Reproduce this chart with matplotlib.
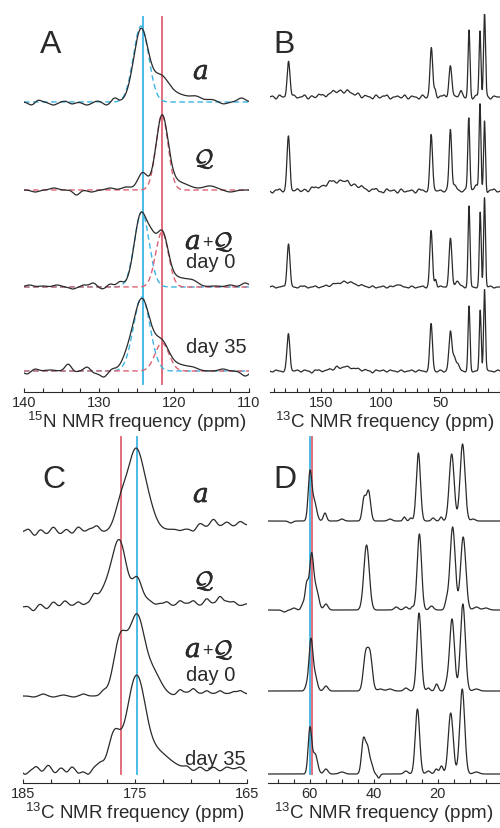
import numpy as np
import matplotlib
matplotlib.use('Agg')
import matplotlib.pyplot as plt
import matplotlib.patheffects as pe
from matplotlib.ticker import FixedLocator, MultipleLocator

plt.rcParams['font.family'] = ['Liberation Sans', 'DejaVu Sans']
plt.rcParams['mathtext.fontset'] = 'custom'
plt.rcParams['mathtext.rm'] = 'Liberation Sans'
plt.rcParams['mathtext.it'] = 'Liberation Sans:italic'

W, H = 500, 829
INK = '#2a2a2a'
BLUE = '#3db4e4'
RED = '#de6272'

# ---- peak lists: (ppm, height in px, fwhm in ppm) ----
# panel A, 15N
A_a = [(124.4, 72, 2.3), (121.8, 20, 2.4), (120.0, 8, 5.0),
       (139.0, -3, 1.0), (138.1, 2, 0.9), (136.1, -3, 1.2), (134.5, 1, 1.0), (133.6, -2, 1.0),
       (131.6, -3, 1.2), (130.2, 1, 1.0), (129.0, -3, 1.0), (127.9, 4, 0.9),
       (117.0, 3, 1.5), (115.0, 2, 1.5), (113.4, -2, 1.2), (111.0, 4, 1.2)]
A_q = [(121.6, 72, 1.9), (124.2, 17, 1.5), (119.6, 8, 3.5), (115.2, 4, 2.0),
       (138.5, -2, 1.2), (136.0, 2, 1.2), (133.0, -5, 1.0), (131.0, -2, 1.2), (128.5, 2, 1.2),
       (126.3, 3, 1.5), (112.5, -2, 1.5)]
A_aq = [(124.4, 73, 2.1), (121.6, 52, 1.9), (123.0, 25, 1.4), (119.3, 9, 3.5),
        (139.3, 2, 1.2), (137.5, 1, 1.2), (135.6, 2, 1.2), (133.5, -2, 1.0), (132.0, 2, 1.0),
        (130.8, 4, 1.0), (129.5, -2, 1.0), (128.5, 3, 1.0), (127.2, 5, 1.0),
        (117.4, 3, 1.5), (114.5, 1, 1.5), (112.5, 2, 1.2), (110.5, 4, 1.2)]
A_d35 = [(124.3, 72, 2.7), (121.6, 26, 2.2), (126.3, 8, 1.8), (119.3, 6, 3.0),
         (139.6, -3, 1.0), (138.5, 2, 1.0), (136.5, 1, 1.5), (134.1, 7, 1.0), (133.3, -1, 1.0),
         (131.6, 4, 1.0), (130.6, -2, 1.0), (129.4, -6, 1.2), (128.2, 2, 1.0),
         (117.4, 2, 1.5), (113.5, 2, 1.2), (110.5, -5, 1.2)]
# fitted components (dashed)
A_a_fit_blue = [(124.4, 76, 2.4)]
A_q_fit_red = [(121.6, 75, 1.9)]
A_aq_fit_blue = [(124.3, 75, 2.3)]
A_aq_fit_red = [(121.6, 55, 2.0)]
A_d35_fit_blue = [(124.3, 74, 2.6)]
A_d35_fit_red = [(121.6, 28, 2.2)]
A_marks = [124.1, 121.6]

# panel B, 13C full range
B_a = [(177.5, 36, 2.8), (133, 6, 22), (57.6, 49, 2.6), (54.4, 8, 2.2), (41.6, 33, 2.8),
       (33, 5, 2.5), (26.0, 66, 1.9), (16.8, 66, 1.8), (13.0, 85, 1.9)]
B_q = [(177.5, 55, 2.8), (135, 10, 30), (57.8, 57, 2.6), (41.6, 63, 2.5), (38, 6, 3.0),
       (26.2, 75, 2.0), (20, 6, 3.0), (16.8, 85, 1.8), (13.0, 71, 1.8)]
B_aq = [(177.5, 43, 2.8), (130, 5, 20), (86, 3, 4), (57.8, 56, 2.6), (54, 8, 2.0),
        (41.6, 48, 2.8), (36, 6, 4), (26.0, 80, 1.9), (16.6, 74, 1.8), (13.0, 90, 1.8)]
B_d35 = [(177.5, 37, 2.8), (130, 4, 20), (57.8, 47, 2.6), (41.6, 39, 3.0), (38.5, 12, 2.5),
         (36, 7, 4), (26.0, 64, 1.9), (16.6, 60, 1.8), (13.0, 82, 1.8)]
B_a_noise = [1, -2, 2, 0, -2, 1, 2, -1, 0, 2, -2, 1, -1, 2, 1, -2, 0, 2, -1, 1, -2, 2, 0, -1,
             2, -2, 1, 0, -2, 2, -1, 1, 2, -2, 0, 1, -1, 2, -2, 1, 0, -2, 2, -1, 1, 0, -2, 1,
             2, -1, -2, 1, 0, 2, -1, 1, -2, 2, 0, -1, 1, -2, 1, 0]
B_q_noise = [-2, 1, 2, -1, 2, -2, 0, 2, -1, 1, -2, 2, 1, -1, 0, -2, 2, 1, -2, 1, 0, 2, -2, 1,
             -1, 2, 0, -2, 1, 2, -1, -2, 2, 0, 1, -2, 2, -1, 0, 1, -2, 2, 1, -1, -2, 2, 0, 1,
             -1, 2, -2, 0, 1, -1, 2, -2, 1, 0, 2, -1, -2, 1, 2, -1]
B_aq_noise = [1, -1, 0, 1, -1, 1, 0, -1, 1, 1, -1, 0, 1, -1, 0, 1, -1, 1, 0, -1, 1, -1, 1, 0,
              -1, 1, 0, -1, 1, -1, 0, 1, -1, 1, 0, -1, 1, 0, -1, 1, -1, 0, 1, -1, 1, 0, -1, 1,
              0, -1, 1, -1, 0, 1, -1, 1, 0, -1, 1, -1, 0, 1, -1, 0]
B_d35_noise = [-1, 1, 0, -1, 2, -1, 0, 1, -1, 1, 0, -2, 1, 1, -1, 0, 1, -1, 2, -1, 0, 1, -1, 0,
               1, -1, 1, 0, -2, 1, 0, 1, -1, 1, 0, -1, 1, -1, 0, 1, -1, 1, 0, -1, 1, 0, -1, 1,
               -1, 0, 1, -1, 1, 0, -1, 1, -1, 0, 1, -1, 1, 0, -1, 1]

# panel C, carbonyl region
C_a = [(175.0, 70, 1.5), (176.2, 30, 1.3), (174.0, 30, 1.6), (167.0, 7, 8.0),
       (184.53, 3, 0.6), (183.93, -4, 0.6), (183.48, 3, 0.6), (182.88, -2, 0.6), (182.29, 5, 0.6),
       (181.70, -2, 0.6), (181.10, 3, 0.6), (180.65, -2, 0.6), (180.06, 5, 0.6), (179.46, 0, 0.6),
       (179.02, 3, 0.6), (178.42, 6, 0.6),
       (170.98, -2, 0.6), (170.38, -1, 0.6), (169.79, -4, 0.6), (169.20, 3, 0.6), (168.60, -1, 0.6),
       (168.00, 6, 0.6), (167.41, -1, 0.6), (166.80, 3, 0.6), (166.20, -1, 0.6), (165.60, 4, 0.6),
       (165.03, 1, 0.6)]
C_q = [(176.4, 66, 1.5), (177.5, 14, 1.2), (174.8, 27, 1.0), (173.8, 6, 1.0), (178.2, 6, 1.0),
       (184.53, 1, 0.6), (184.08, -4, 0.6), (183.48, 3, 0.6), (182.88, -2, 0.6), (182.29, 5, 0.6),
       (181.85, 0, 0.6), (181.25, 6, 0.6), (180.65, 1, 0.6), (180.06, 5, 0.6), (179.30, 3, 0.6),
       (178.70, 9, 0.6),
       (172.77, 3, 0.6), (172.17, 5, 0.6), (171.58, 1, 0.6), (170.98, 6, 0.6), (170.38, 3, 0.6),
       (169.79, 6, 0.6), (169.20, 1, 0.6), (168.60, 8, 0.6), (168.00, 3, 0.6), (167.41, 10, 0.6),
       (166.80, 5, 0.6), (166.20, 5, 0.6), (165.60, 1, 0.6), (165.03, 3, 0.6)]
C_aq = [(174.85, 74, 1.5), (176.3, 58, 1.4), (173.5, 25, 1.8),
        (184.97, 0, 0.6), (184.08, -1, 0.6), (183.19, 2, 0.6), (182.29, -1, 0.6), (181.40, 1, 0.6),
        (180.50, -1, 0.6), (179.60, 2, 0.6), (178.70, 0, 0.6), (177.83, 4, 0.6),
        (170.98, 6, 0.6), (170.38, 3, 0.6), (169.79, 7, 0.6), (169.20, 2, 0.6), (168.60, 5, 0.6),
        (168.00, 2, 0.6), (167.41, 5, 0.6), (166.80, 2, 0.6), (166.20, 4, 0.6), (165.60, 5, 0.6),
        (165.03, 2, 0.6)]
C_d35 = [(174.7, 66, 1.6), (175.5, 32, 1.5), (176.85, 35, 1.2), (173.4, 20, 3.0),
         (184.83, -5, 0.6), (184.38, -1, 0.6), (183.78, 3, 0.6), (183.34, -3, 0.6), (182.74, 4, 0.6),
         (182.14, -4, 0.6), (181.55, 2, 0.6), (181.10, -4, 0.6), (180.65, 3, 0.6), (180.06, -4, 0.6),
         (179.60, -1, 0.6), (179.17, -5, 0.6), (178.57, 2, 0.6), (178.10, 5, 0.6),
         (170.38, 2, 0.6), (169.79, -2, 0.6), (169.20, 2, 0.6), (168.60, -2, 0.6), (168.00, 2, 0.6),
         (167.41, -2, 0.6), (166.80, 2, 0.6), (166.20, 0, 0.6), (165.60, 2, 0.6), (165.03, -2, 0.6)]
C_marks = [174.85, 176.25]

# panel D, aliphatic region
D_a = [(60.0, 46, 1.3), (58.7, 20, 1.8), (55.3, 8, 1.2), (43.1, 22, 1.3), (41.7, 30, 1.5),
       (26.1, 68, 1.5), (15.7, 67, 1.8), (12.3, 77, 1.8), (30.5, 4, 1.0), (28.5, 3, 1.0),
       (21.5, 3, 1.2), (19.0, 4, 1.0), (9.0, 2, 1.5), (66, -2, 1.5), (50, 2, 1.5), (35, 2, 1.5)]
D_q = [(59.5, 54, 1.5), (61.0, 25, 1.2), (62.2, 6, 1.2), (58.0, 20, 1.8), (55.0, 6, 1.5),
       (42.3, 65, 2.0), (25.8, 76, 1.6), (17.3, 8, 1.2), (15.4, 83, 1.9), (12.1, 73, 1.9),
       (33, 3, 1.5), (30, 3, 1.5), (28, 3, 1.0), (22, 4, 1.5), (8, 3, 2.0), (5, 2, 2.0),
       (68, -2, 1.5), (65, 2, 1.5)]
D_aq = [(59.7, 50, 1.4), (58.4, 15, 1.6), (61.0, 5, 1.2), (55.0, 5, 1.5), (42.6, 35, 1.7),
        (41.2, 35, 1.7), (25.9, 78, 1.6), (20.4, 7, 1.2), (17.3, 6, 1.2), (15.6, 72, 1.8),
        (12.2, 87, 1.8), (30, 3, 1.5), (23, 3, 1.2), (35, 2, 2.0), (38, 2, 2.0), (8, 2, 2.0)]
D_d35 = [(60.0, 45, 1.3), (58.4, 20, 1.8), (55.0, 5, 1.5), (43.3, 33, 1.4), (42.0, 26, 1.5),
         (40.7, 8, 1.2), (26.4, 65, 1.6), (18.9, 8, 1.2), (20.5, 5, 1.2), (16.0, 61, 1.8),
         (12.4, 85, 1.8), (30, 3, 1.5), (23, 3, 1.5), (38.5, -4, 1.0), (50, 2, 2.0), (8, 2, 2.0)]
D_marks = [60.1, 59.3]


def trace(ppm, peaks):
    y = np.zeros_like(ppm)
    for c, h, w in peaks:
        y += h * np.exp(-4 * np.log(2) * ((ppm - c) / w) ** 2)
    return y


def noise(ppm, values, start, stop, width):
    pos = np.linspace(start, stop, len(values))
    return trace(ppm, [(p, v, width) for p, v in zip(pos, values)])


def panel(fig, left, top, right, bottom, xlim, major, minor):
    ax = fig.add_axes([left / W, 1 - bottom / H, (right - left) / W, (bottom - top) / H])
    ax.set_xlim(*xlim)
    ax.set_ylim(0, bottom - top)
    for s in ('top', 'left', 'right'):
        ax.spines[s].set_visible(False)
    ax.spines['bottom'].set_linewidth(0.8)
    ax.spines['bottom'].set_color(INK)
    ax.set_yticks([])
    ax.xaxis.set_major_locator(FixedLocator(major))
    ax.xaxis.set_minor_locator(MultipleLocator(minor))
    ax.tick_params(axis='x', which='both', direction='in', length=3, width=0.8,
                   pad=2, labelsize=10.5, colors=INK)
    ax.patch.set_alpha(0)
    return ax


def label(fig, x, y, s, size, **kw):
    fig.text(x / W, 1 - y / H, s, fontsize=size, ha='left', va='baseline', color=INK, **kw)


bold = [pe.withStroke(linewidth=0.4, foreground=INK)]


def sample_a(fig, x, y, size=19):
    label(fig, x, y, 'a', size, family=['DejaVu Serif'], style='italic', path_effects=bold)


def sample_q(fig, x, y, size=17):
    label(fig, x, y, r'$\mathcal{Q}$', size, math_fontfamily='cm', path_effects=bold)


fig = plt.figure(figsize=(W / 100, H / 100), dpi=100)

# ---- A ----
axA = panel(fig, 24, 15, 249, 393, (140, 110), [140, 130, 120, 110], 2.5)
ppmA = np.linspace(140, 110, 1500)
axA.plot([A_marks[0]] * 2, [8, 375], color=BLUE, lw=1.3, zorder=1)
axA.plot([A_marks[1]] * 2, [8, 375], color=RED, lw=1.3, zorder=1)
for base, peaks, fits in [(290, A_a, [(A_a_fit_blue, BLUE)]),
                          (202, A_q, [(A_q_fit_red, RED)]),
                          (105, A_aq, [(A_aq_fit_blue, BLUE), (A_aq_fit_red, RED)]),
                          (21, A_d35, [(A_d35_fit_blue, BLUE), (A_d35_fit_red, RED)])]:
    for f, col in fits:
        axA.plot(ppmA, base + trace(ppmA, f), color=col, lw=1.0, ls=(0, (4, 2.5)), zorder=2)
    axA.plot(ppmA, base + trace(ppmA, peaks), color=INK, lw=0.9, zorder=3)
axA.set_xlabel(r'$^{15}$N NMR frequency (ppm)', fontsize=13.5, labelpad=0, color=INK)

# ---- B ----
axB = panel(fig, 270, 15, 500, 393, (193, 0), [150, 100, 50], 10)
ppmB = np.linspace(193, 0, 2400)
for base, peaks, nz in [(295, B_a, B_a_noise), (201, B_q, B_q_noise),
                        (105, B_aq, B_aq_noise), (21, B_d35, B_d35_noise)]:
    y = base + trace(ppmB, peaks) + noise(ppmB, nz, 191, 2, 2.4)
    axB.plot(ppmB, y, color=INK, lw=0.9)
axB.set_xlabel(r'$^{13}$C NMR frequency (ppm)', fontsize=13.5, labelpad=0, color=INK)

# ---- C ----
axC = panel(fig, 23, 425, 247, 784, (185, 165), [185, 175, 165], 2.5)
ppmC = np.linspace(185, 165, 1500)
axC.plot([C_marks[0]] * 2, [9, 346], color=BLUE, lw=1.3, zorder=1)
axC.plot([C_marks[1]] * 2, [9, 346], color=RED, lw=1.3, zorder=1)
for base, peaks in [(251, C_a), (176, C_q), (87, C_aq), (14, C_d35)]:
    axC.plot(ppmC, base + trace(ppmC, peaks), color=INK, lw=0.9, zorder=3)
axC.set_xlabel(r'$^{13}$C NMR frequency (ppm)', fontsize=13.5, labelpad=0, color=INK)

# ---- D ----
axD = panel(fig, 268, 425, 500, 784, (73.1, 0.6), [60, 40, 20], 5)
ppmD = np.linspace(73.1, 0.6, 2000)
axD.plot([D_marks[0]] * 2, [9, 346], color=BLUE, lw=1.3, zorder=1)
axD.plot([D_marks[1]] * 2, [9, 346], color=RED, lw=1.3, zorder=1)
for base, peaks in [(262, D_a), (173, D_q), (92, D_aq), (9, D_d35)]:
    axD.plot(ppmD, base + trace(ppmD, peaks), color=INK, lw=0.9, zorder=3)
axD.set_xlabel(r'$^{13}$C NMR frequency (ppm)', fontsize=13.5, labelpad=0, color=INK)

# ---- panel letters and sample labels ----
for x, y, s in [(40, 53, 'A'), (273, 53, 'B'), (42, 488, 'C'), (273, 488, 'D')]:
    label(fig, x, y, s, 23)

sample_a(fig, 193, 80)
sample_q(fig, 194, 167)
sample_a(fig, 193, 503)
sample_q(fig, 194, 589)
for y in (250, 658):
    sample_a(fig, 185, y)
    label(fig, 202, y - 2, '+', 13)
    sample_q(fig, 213, y)
label(fig, 186, 268, 'day 0', 14.5)
label(fig, 186, 353, 'day 35', 14.5)
label(fig, 186, 681, 'day 0', 14.5)
label(fig, 185, 765, 'day 35', 14.5)

fig.savefig('out.png', dpi=100)
